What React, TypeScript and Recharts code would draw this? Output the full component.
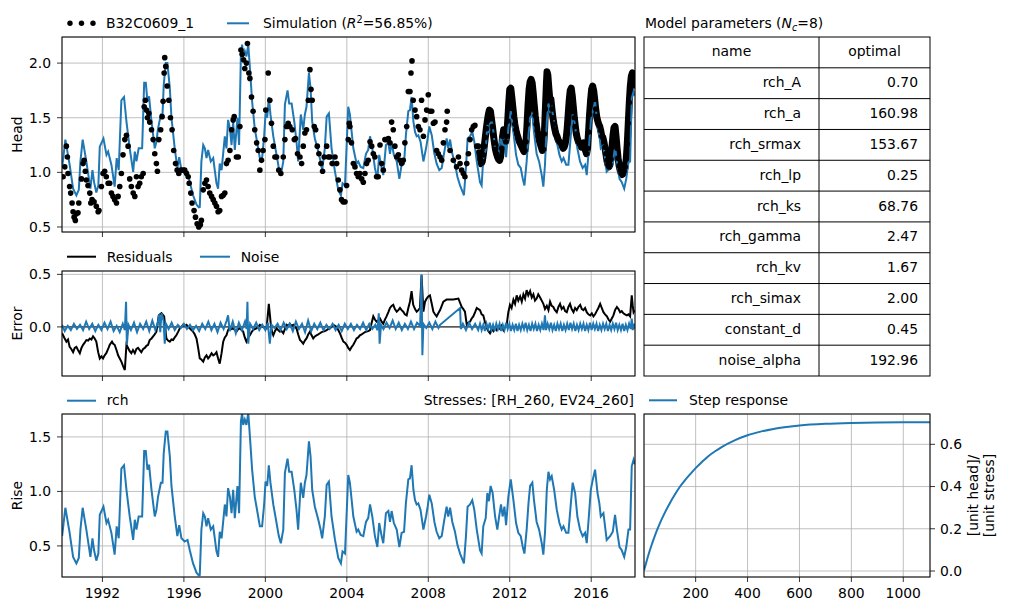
import React from "react";
import {
  ComposedChart,
  Line,
  Scatter,
  XAxis,
  YAxis,
  CartesianGrid,
  ReferenceLine,
} from "recharts";

const BLUE = "#1f77b4";
const FONT = "DejaVu Sans, sans-serif";
const FS = 13.9;

// --- data -------------------------------------------------------------

// manual head readings of B32C0609_1 [decimal year, head]
const manualReadings: [number, number][] = [
  [1990.07, 0.96], [1990.15, 1.05], [1990.23, 1.24], [1990.28, 1.14], [1990.31, 0.99],
  [1990.39, 0.87], [1990.44, 0.81], [1990.51, 0.72], [1990.56, 0.64], [1990.61, 0.59],
  [1990.67, 0.56], [1990.72, 0.62], [1990.8, 0.63], [1990.84, 0.72], [1990.97, 0.94],
  [1991.05, 1.08], [1991.1, 1.11], [1991.16, 1.01], [1991.21, 0.93], [1991.29, 0.88],
  [1991.38, 0.81], [1991.43, 0.72], [1991.49, 0.75], [1991.59, 0.73], [1991.7, 0.69],
  [1991.79, 0.64], [1991.83, 0.65], [1991.95, 0.87], [1992.03, 0.99], [1992.11, 1.01],
  [1992.19, 0.96], [1992.28, 0.9], [1992.36, 0.9], [1992.44, 0.81], [1992.52, 0.78],
  [1992.6, 0.75], [1992.69, 0.72], [1992.77, 0.78], [1992.85, 0.87], [1992.93, 0.99],
  [1993.01, 1.16], [1993.1, 1.3], [1993.18, 1.34], [1993.26, 1.24], [1993.34, 0.94],
  [1993.42, 0.87], [1993.51, 0.81], [1993.59, 0.78], [1993.67, 0.96], [1993.75, 0.87],
  [1993.83, 0.9], [1993.91, 0.96], [1994.0, 0.99], [1994.05, 1.6], [1994.11, 1.66],
  [1994.16, 1.57], [1994.21, 1.5], [1994.28, 1.54], [1994.32, 1.46], [1994.41, 1.39],
  [1994.49, 1.3], [1994.57, 1.17], [1994.65, 1.08], [1994.7, 1.01], [1994.77, 1.3],
  [1994.86, 1.39], [1994.93, 1.51], [1994.98, 1.65], [1995.03, 1.91], [1995.06, 2.05],
  [1995.11, 1.97], [1995.18, 1.79], [1995.26, 1.66], [1995.34, 1.5], [1995.42, 1.39],
  [1995.5, 1.2], [1995.59, 1.08], [1995.67, 1.02], [1995.75, 0.99], [1995.85, 1.02],
  [1995.96, 1.02], [1996.04, 1.02], [1996.13, 0.99], [1996.21, 0.96], [1996.26, 0.9],
  [1996.34, 0.81], [1996.4, 0.72], [1996.5, 0.65], [1996.57, 0.59], [1996.65, 0.53],
  [1996.73, 0.5], [1996.81, 0.52], [1996.86, 0.56], [1996.95, 0.84], [1997.03, 0.9],
  [1997.11, 0.93], [1997.19, 0.87], [1997.27, 0.81], [1997.36, 0.78], [1997.44, 0.75],
  [1997.52, 0.72], [1997.6, 0.69], [1997.68, 0.64], [1997.76, 0.65], [1997.85, 0.78],
  [1997.93, 0.79], [1998.01, 0.81], [1998.09, 1.08], [1998.17, 1.11], [1998.26, 1.2],
  [1998.34, 1.39], [1998.42, 1.48], [1998.47, 1.51], [1998.58, 1.14], [1998.67, 1.14],
  [1998.75, 1.42], [1998.8, 2.12], [1998.86, 2.08], [1998.93, 2.03], [1998.99, 1.95],
  [1999.07, 2.0], [1999.12, 2.18], [1999.19, 1.91], [1999.24, 1.86], [1999.32, 1.69],
  [1999.4, 1.56], [1999.48, 1.39], [1999.57, 1.27], [1999.65, 1.2], [1999.73, 1.02],
  [1999.81, 1.11], [1999.89, 1.2], [1999.98, 1.3], [2000.02, 1.57], [2000.14, 1.91],
  [2000.22, 1.66], [2000.3, 1.45], [2000.39, 1.24], [2000.47, 1.14], [2000.55, 1.14],
  [2000.66, 1.02], [2000.76, 0.99], [2000.88, 1.14], [2000.96, 1.3], [2001.04, 1.42],
  [2001.12, 1.45], [2001.2, 1.42], [2001.32, 1.39], [2001.42, 1.3], [2001.48, 1.31],
  [2001.58, 1.17], [2001.7, 1.14], [2001.78, 1.08], [2001.86, 1.24], [2001.94, 1.36],
  [2002.02, 1.39], [2002.11, 1.66], [2002.19, 1.94], [2002.24, 1.76], [2002.3, 1.66],
  [2002.4, 1.42], [2002.47, 1.39], [2002.55, 1.24], [2002.63, 1.17], [2002.73, 1.08],
  [2002.81, 1.01], [2002.89, 1.14], [2003.01, 1.24], [2003.09, 1.14], [2003.17, 1.14],
  [2003.28, 1.08], [2003.42, 1.14], [2003.5, 1.08], [2003.58, 0.93], [2003.66, 0.84],
  [2003.74, 0.75], [2003.82, 0.73], [2003.91, 0.73], [2003.99, 0.88], [2004.07, 1.3],
  [2004.12, 1.45], [2004.15, 1.42], [2004.23, 1.27], [2004.32, 1.08], [2004.4, 1.05],
  [2004.48, 0.99], [2004.56, 0.96], [2004.64, 0.99], [2004.73, 0.94], [2004.81, 0.91],
  [2004.89, 0.99], [2004.97, 1.08], [2005.05, 1.11], [2005.14, 1.28], [2005.22, 1.24],
  [2005.3, 1.17], [2005.38, 1.14], [2005.46, 0.96], [2005.54, 0.96], [2005.63, 1.25],
  [2005.71, 1.08], [2005.79, 1.02], [2005.87, 1.3], [2005.95, 1.3], [2006.04, 1.31],
  [2006.12, 1.27], [2006.2, 1.46], [2006.28, 1.39], [2006.36, 1.24], [2006.45, 1.14],
  [2006.53, 1.16], [2006.61, 1.11], [2006.69, 1.08], [2006.77, 1.11], [2006.85, 1.27],
  [2006.94, 1.42], [2007.02, 1.74], [2007.1, 1.74], [2007.15, 1.91], [2007.2, 2.02],
  [2007.26, 1.66], [2007.35, 1.57], [2007.43, 1.51], [2007.51, 1.42], [2007.59, 1.39],
  [2007.67, 1.66], [2007.76, 1.33], [2007.84, 1.48], [2007.92, 1.57], [2008.0, 1.71],
  [2008.08, 1.56], [2008.17, 1.56], [2008.25, 1.45], [2008.33, 1.46], [2008.41, 1.2],
  [2008.49, 1.17], [2008.58, 1.14], [2008.66, 1.11], [2008.74, 1.27], [2008.82, 1.39],
  [2008.9, 1.46], [2008.93, 1.56], [2009.07, 1.2], [2009.23, 1.11], [2009.39, 1.05],
  [2009.48, 1.14], [2009.56, 1.08], [2009.64, 1.02], [2009.72, 0.99], [2009.8, 0.96],
  [2009.89, 1.08], [2009.97, 1.17], [2010.05, 1.3], [2010.13, 1.39], [2010.21, 1.42],
  [2010.29, 1.43], [2010.38, 1.24], [2010.46, 1.24],
];

// logger period, daily readings taken every ~18 days [decimal year, head]
const loggerReadings: [number, number][] = [
  [2010.5, 1.18], [2010.55, 1.12], [2010.6, 1.08], [2010.65, 1.1], [2010.7, 1.16],
  [2010.75, 1.24], [2010.8, 1.32], [2010.85, 1.4], [2010.9, 1.47], [2010.95, 1.53],
  [2011.0, 1.57], [2011.05, 1.56], [2011.1, 1.49], [2011.15, 1.42], [2011.2, 1.34],
  [2011.25, 1.27], [2011.3, 1.21], [2011.35, 1.17], [2011.4, 1.14], [2011.45, 1.12],
  [2011.5, 1.11], [2011.55, 1.14], [2011.6, 1.22], [2011.65, 1.33], [2011.7, 1.39],
  [2011.75, 1.34], [2011.8, 1.28], [2011.85, 1.33], [2011.9, 1.47], [2011.95, 1.63],
  [2012.0, 1.76], [2012.05, 1.77], [2012.1, 1.69], [2012.15, 1.6], [2012.2, 1.51],
  [2012.25, 1.44], [2012.3, 1.39], [2012.35, 1.35], [2012.4, 1.32], [2012.45, 1.29],
  [2012.5, 1.27], [2012.55, 1.25], [2012.6, 1.23], [2012.65, 1.21], [2012.7, 1.19],
  [2012.75, 1.2], [2012.8, 1.28], [2012.85, 1.44], [2012.9, 1.62], [2012.95, 1.76],
  [2013.0, 1.83], [2013.05, 1.85], [2013.1, 1.82], [2013.15, 1.73], [2013.2, 1.62],
  [2013.25, 1.52], [2013.3, 1.44], [2013.35, 1.38], [2013.4, 1.33], [2013.45, 1.29],
  [2013.5, 1.26], [2013.55, 1.23], [2013.6, 1.2], [2013.65, 1.21], [2013.7, 1.35],
  [2013.75, 1.58], [2013.8, 1.81], [2013.83, 1.92], [2013.87, 1.89], [2013.92, 1.77],
  [2013.97, 1.66], [2014.02, 1.67], [2014.07, 1.58], [2014.12, 1.5], [2014.17, 1.44],
  [2014.22, 1.39], [2014.27, 1.35], [2014.32, 1.33], [2014.37, 1.3], [2014.42, 1.28],
  [2014.47, 1.27], [2014.52, 1.26], [2014.57, 1.24], [2014.62, 1.22], [2014.67, 1.23],
  [2014.72, 1.26], [2014.77, 1.31], [2014.82, 1.4], [2014.87, 1.53], [2014.92, 1.66],
  [2014.97, 1.75], [2015.02, 1.77], [2015.07, 1.7], [2015.12, 1.6], [2015.17, 1.5],
  [2015.22, 1.42], [2015.27, 1.35], [2015.32, 1.31], [2015.37, 1.28], [2015.42, 1.26],
  [2015.47, 1.25], [2015.52, 1.23], [2015.57, 1.24], [2015.62, 1.27], [2015.67, 1.25],
  [2015.72, 1.2], [2015.77, 1.17], [2015.82, 1.22], [2015.87, 1.37], [2015.92, 1.53],
  [2015.97, 1.66], [2016.02, 1.76], [2016.07, 1.79], [2016.12, 1.75], [2016.17, 1.67],
  [2016.22, 1.58], [2016.27, 1.51], [2016.32, 1.47], [2016.37, 1.44], [2016.42, 1.42],
  [2016.47, 1.38], [2016.52, 1.33], [2016.57, 1.32], [2016.62, 1.28], [2016.67, 1.23],
  [2016.72, 1.17], [2016.77, 1.11], [2016.82, 1.07], [2016.87, 1.05], [2016.92, 1.07],
  [2016.97, 1.12], [2017.02, 1.23], [2017.07, 1.34], [2017.12, 1.41], [2017.17, 1.42],
  [2017.22, 1.33], [2017.27, 1.22], [2017.32, 1.13], [2017.37, 1.06], [2017.42, 1.02],
  [2017.47, 0.99], [2017.52, 0.98], [2017.57, 0.99], [2017.62, 1.01], [2017.67, 1.05],
  [2017.72, 1.12], [2017.77, 1.26], [2017.82, 1.45], [2017.87, 1.64], [2017.92, 1.79],
  [2017.97, 1.88], [2018.02, 1.91], [2018.07, 1.87], [2018.12, 1.8],
];

// recharge contribution (rise) [decimal year, rise]
const rchRise: [number, number][] = [
  [1990.02, 0.59], [1990.18, 0.85], [1990.39, 0.62], [1990.56, 0.4], [1990.72, 0.34],
  [1990.84, 0.39], [1990.92, 0.65], [1991.03, 0.85], [1991.21, 0.65], [1991.41, 0.4],
  [1991.51, 0.57], [1991.59, 0.46], [1991.7, 0.365], [1991.8, 0.43], [1991.87, 0.785],
  [1992.05, 0.86], [1992.2, 0.71], [1992.28, 0.74], [1992.44, 0.62], [1992.6, 0.42],
  [1992.7, 0.68], [1992.8, 0.57], [1992.93, 1.21], [1993.06, 1.24], [1993.18, 1.015],
  [1993.34, 0.77], [1993.51, 0.555], [1993.59, 0.74], [1993.67, 0.65], [1993.78, 0.77],
  [1993.95, 0.77], [1994.05, 1.37], [1994.13, 1.37], [1994.21, 1.2], [1994.29, 1.245],
  [1994.41, 1.015], [1994.57, 0.77], [1994.65, 0.83], [1994.73, 0.95], [1994.87, 1.08],
  [1994.95, 1.08], [1995.01, 1.35], [1995.11, 1.55], [1995.19, 1.55], [1995.31, 1.32],
  [1995.39, 1.05], [1995.55, 0.77], [1995.68, 0.59], [1995.77, 0.69], [1995.88, 0.57],
  [1996.04, 0.54], [1996.18, 0.555], [1996.29, 0.46], [1996.45, 0.34], [1996.62, 0.255],
  [1996.73, 0.23], [1996.78, 0.233], [1996.86, 0.65], [1996.95, 0.8], [1997.03, 0.77],
  [1997.11, 0.68], [1997.19, 0.755], [1997.32, 0.65], [1997.44, 0.68], [1997.6, 0.45],
  [1997.68, 0.4], [1997.76, 0.63], [1997.85, 0.57], [1998.01, 0.88], [1998.09, 0.77],
  [1998.17, 1.03], [1998.26, 0.95], [1998.34, 0.8], [1998.42, 1.015], [1998.5, 0.755],
  [1998.63, 1.05], [1998.71, 0.8], [1998.8, 1.64], [1998.86, 1.72], [1998.91, 1.61],
  [1998.99, 1.66], [1999.07, 1.61], [1999.16, 1.72], [1999.24, 1.51], [1999.35, 1.2],
  [1999.48, 0.95], [1999.62, 0.8], [1999.73, 0.68], [1999.84, 0.68], [1999.94, 0.88],
  [2000.01, 1.09], [2000.09, 1.05], [2000.17, 1.24], [2000.25, 1.08], [2000.39, 0.88],
  [2000.55, 0.71], [2000.66, 0.59], [2000.76, 0.525], [2000.88, 0.65], [2000.96, 1.17],
  [2001.09, 1.3], [2001.17, 1.18], [2001.29, 1.18], [2001.42, 1.015], [2001.53, 0.83],
  [2001.61, 0.65], [2001.74, 1.08], [2001.86, 0.94], [2001.94, 1.08], [2002.02, 1.15],
  [2002.14, 1.46], [2002.22, 1.32], [2002.3, 1.015], [2002.43, 0.86], [2002.6, 0.74],
  [2002.71, 0.65], [2002.79, 0.57], [2002.92, 0.77], [2003.01, 1.06], [2003.12, 1.09],
  [2003.25, 0.77], [2003.42, 0.555], [2003.58, 0.39], [2003.71, 0.34], [2003.79, 0.45],
  [2003.91, 0.43], [2004.07, 1.15], [2004.15, 1.08], [2004.32, 0.77], [2004.48, 0.63],
  [2004.56, 0.65], [2004.68, 0.6], [2004.81, 0.59], [2004.94, 0.72], [2005.05, 0.755],
  [2005.14, 0.88], [2005.25, 0.77], [2005.38, 0.59], [2005.5, 0.49], [2005.59, 0.71],
  [2005.71, 0.59], [2005.79, 0.525], [2005.92, 0.8], [2006.04, 0.82], [2006.12, 0.72],
  [2006.2, 0.82], [2006.31, 0.71], [2006.45, 0.65], [2006.58, 0.49], [2006.69, 0.62],
  [2006.81, 0.63], [2006.9, 0.89], [2007.02, 1.11], [2007.1, 1.12], [2007.18, 1.24],
  [2007.27, 1.015], [2007.35, 0.92], [2007.43, 0.88], [2007.51, 0.89], [2007.62, 0.83],
  [2007.76, 0.65], [2007.89, 0.77], [2007.97, 0.86], [2008.05, 0.97], [2008.17, 0.89],
  [2008.3, 0.72], [2008.41, 0.63], [2008.54, 0.57], [2008.66, 0.59], [2008.77, 0.72],
  [2008.9, 0.86], [2008.98, 0.77], [2009.07, 0.85], [2009.18, 0.72], [2009.31, 0.63],
  [2009.43, 0.51], [2009.56, 0.43], [2009.69, 0.37], [2009.75, 0.34], [2009.85, 0.59],
  [2009.93, 0.86], [2010.05, 0.88], [2010.16, 0.92], [2010.26, 0.83], [2010.38, 0.65],
  [2010.54, 0.46], [2010.62, 0.43], [2010.7, 0.68], [2010.82, 0.755], [2010.9, 0.985],
  [2010.98, 0.91], [2011.06, 1.05], [2011.16, 0.985], [2011.28, 0.77], [2011.39, 0.65],
  [2011.49, 0.785], [2011.57, 0.88], [2011.65, 0.77], [2011.74, 0.86], [2011.82, 0.69],
  [2011.93, 0.95], [2012.05, 1.11], [2012.18, 0.92], [2012.31, 0.71], [2012.42, 0.62],
  [2012.54, 0.59], [2012.64, 0.49], [2012.72, 0.43], [2012.83, 0.65], [2012.92, 0.89],
  [2013.0, 1.05], [2013.11, 1.08], [2013.19, 0.92], [2013.32, 0.72], [2013.44, 0.65],
  [2013.57, 0.525], [2013.65, 0.42], [2013.73, 0.62], [2013.82, 1.015], [2013.9, 1.18],
  [2013.98, 1.11], [2014.06, 1.14], [2014.18, 1.015], [2014.31, 0.83], [2014.44, 0.71],
  [2014.55, 0.65], [2014.64, 0.68], [2014.77, 0.62], [2014.88, 0.62], [2015.0, 0.89],
  [2015.09, 1.08], [2015.21, 0.985], [2015.32, 0.77], [2015.45, 0.65], [2015.58, 0.59],
  [2015.7, 0.62], [2015.78, 0.525], [2015.86, 0.71], [2015.98, 1.015], [2016.08, 1.11],
  [2016.19, 1.2], [2016.31, 0.985], [2016.4, 0.89], [2016.47, 0.77], [2016.6, 0.8],
  [2016.76, 0.555], [2016.93, 0.59], [2017.06, 0.63], [2017.17, 0.785], [2017.26, 0.65],
  [2017.39, 0.49], [2017.5, 0.46], [2017.62, 0.4], [2017.72, 0.49], [2017.83, 0.65],
  [2017.91, 0.65], [2017.99, 1.23], [2018.08, 1.29], [2018.14, 1.25],
];

// residuals (observed - simulated) [decimal year, error]
const residuals: [number, number][] = [
  [1990.02, -0.06], [1990.12, -0.1], [1990.23, -0.14], [1990.31, -0.12], [1990.39, -0.19],
  [1990.47, -0.21], [1990.56, -0.24], [1990.64, -0.2], [1990.72, -0.19], [1990.8, -0.22],
  [1990.89, -0.25], [1990.97, -0.2], [1991.05, -0.17], [1991.13, -0.15], [1991.21, -0.125],
  [1991.3, -0.13], [1991.38, -0.11], [1991.46, -0.12], [1991.54, -0.09], [1991.62, -0.11],
  [1991.7, -0.14], [1991.79, -0.24], [1991.87, -0.3], [1991.95, -0.28], [1992.03, -0.3],
  [1992.11, -0.27], [1992.19, -0.25], [1992.28, -0.21], [1992.36, -0.17], [1992.47, -0.14],
  [1992.53, -0.16], [1992.6, -0.17], [1992.69, -0.22], [1992.77, -0.27], [1992.85, -0.3],
  [1992.93, -0.33], [1993.01, -0.37], [1993.1, -0.41], [1993.18, -0.17], [1993.26, -0.2],
  [1993.34, -0.23], [1993.42, -0.25], [1993.5, -0.22], [1993.59, -0.25], [1993.67, -0.21],
  [1993.75, -0.2], [1993.83, -0.22], [1993.91, -0.24], [1994.0, -0.21], [1994.08, -0.2],
  [1994.16, -0.18], [1994.24, -0.17], [1994.32, -0.125], [1994.41, -0.11], [1994.49, -0.09],
  [1994.57, -0.07], [1994.65, -0.045], [1994.77, 0.11], [1994.9, 0.13], [1995.03, 0.1],
  [1995.14, -0.11], [1995.22, -0.13], [1995.31, -0.14], [1995.39, -0.12], [1995.47, -0.125],
  [1995.55, -0.1], [1995.63, -0.08], [1995.71, -0.05], [1995.8, -0.014], [1995.88, 0.0],
  [1995.96, 0.02], [1996.04, 0.01], [1996.13, 0.02], [1996.21, 0.0], [1996.29, -0.014],
  [1996.37, -0.03], [1996.45, -0.045], [1996.53, -0.07], [1996.62, -0.11], [1996.7, -0.2],
  [1996.78, -0.3], [1996.86, -0.31], [1996.95, -0.33], [1997.03, -0.29], [1997.11, -0.27],
  [1997.19, -0.3], [1997.27, -0.28], [1997.36, -0.25], [1997.44, -0.27], [1997.52, -0.26],
  [1997.6, -0.24], [1997.68, -0.3], [1997.76, -0.35], [1997.85, -0.25], [1997.93, -0.14],
  [1998.01, -0.1], [1998.09, -0.08], [1998.17, -0.03], [1998.26, 0.0], [1998.34, -0.02],
  [1998.42, -0.014], [1998.5, -0.03], [1998.58, -0.045], [1998.67, -0.02], [1998.75, -0.014],
  [1998.83, -0.03], [1998.91, -0.045], [1998.99, -0.1], [1999.07, -0.14], [1999.16, -0.1],
  [1999.24, -0.08], [1999.32, -0.05], [1999.4, -0.03], [1999.48, -0.02], [1999.57, -0.014],
  [1999.65, 0.0], [1999.73, 0.02], [1999.81, 0.01], [1999.89, 0.0], [1999.98, -0.01],
  [2000.06, -0.014], [2000.17, 0.22], [2000.27, 0.02], [2000.33, -0.05], [2000.39, -0.08],
  [2000.47, -0.04], [2000.55, -0.014], [2000.63, -0.03], [2000.71, -0.045], [2000.8, -0.04],
  [2000.88, -0.06], [2000.96, -0.02], [2001.04, 0.02], [2001.12, 0.01], [2001.2, 0.03],
  [2001.29, 0.01], [2001.37, 0.02], [2001.45, 0.0], [2001.53, -0.014], [2001.61, -0.07],
  [2001.7, -0.125], [2001.78, -0.14], [2001.86, -0.16], [2001.94, -0.13], [2002.02, -0.11],
  [2002.11, -0.07], [2002.19, -0.045], [2002.27, -0.08], [2002.35, -0.11], [2002.43, -0.09],
  [2002.51, -0.08], [2002.6, -0.07], [2002.68, -0.06], [2002.76, -0.05], [2002.84, -0.045],
  [2002.92, -0.04], [2003.01, -0.03], [2003.09, -0.02], [2003.17, -0.014], [2003.25, 0.0],
  [2003.33, 0.02], [2003.42, 0.01], [2003.5, 0.0], [2003.58, -0.03], [2003.66, -0.06],
  [2003.74, -0.1], [2003.83, -0.14], [2003.91, -0.15], [2003.99, -0.17], [2004.07, -0.2],
  [2004.15, -0.22], [2004.24, -0.19], [2004.32, -0.17], [2004.4, -0.14], [2004.48, -0.11],
  [2004.56, -0.1], [2004.64, -0.08], [2004.73, -0.07], [2004.81, -0.06], [2004.89, -0.05],
  [2004.97, -0.045], [2005.05, -0.04], [2005.14, -0.03], [2005.22, 0.04], [2005.3, 0.1],
  [2005.38, 0.07], [2005.46, 0.05], [2005.54, 0.06], [2005.63, 0.08], [2005.71, 0.05],
  [2005.79, 0.03], [2005.87, 0.07], [2005.95, 0.1], [2006.04, 0.14], [2006.12, 0.18],
  [2006.2, 0.2], [2006.28, 0.21], [2006.36, 0.17], [2006.45, 0.145], [2006.53, 0.16],
  [2006.61, 0.18], [2006.69, 0.16], [2006.77, 0.145], [2006.85, 0.12], [2006.94, 0.11],
  [2007.02, 0.18], [2007.1, 0.24], [2007.18, 0.34], [2007.26, 0.21], [2007.35, 0.17],
  [2007.43, 0.145], [2007.51, 0.16], [2007.59, 0.18], [2007.67, 0.49], [2007.76, 0.145],
  [2007.84, 0.24], [2007.92, 0.27], [2008.0, 0.29], [2008.08, 0.3], [2008.17, 0.22],
  [2008.25, 0.145], [2008.33, 0.12], [2008.41, 0.1], [2008.49, 0.13], [2008.58, 0.16],
  [2008.66, 0.2], [2008.74, 0.24], [2008.9, 0.26], [2009.23, 0.26], [2009.48, 0.27],
  [2009.56, 0.23], [2009.64, 0.19], [2009.72, 0.17], [2009.8, 0.145], [2009.89, 0.02],
  [2009.97, 0.04], [2010.05, 0.05], [2010.13, 0.08], [2010.21, 0.1], [2010.3, 0.14],
  [2010.38, 0.18], [2010.46, 0.17], [2010.54, 0.16], [2010.62, 0.12], [2010.7, 0.11],
  [2010.78, 0.05], [2010.87, -0.01], [2010.95, -0.04], [2011.03, -0.06], [2011.11, -0.02],
  [2011.2, -0.04], [2011.28, -0.01], [2011.36, -0.03], [2011.44, 0.0], [2011.52, -0.02],
  [2011.6, 0.01], [2011.69, -0.03], [2011.77, 0.0], [2011.85, 0.02], [2011.93, 0.14],
  [2012.01, 0.21], [2012.09, 0.18], [2012.18, 0.26], [2012.26, 0.22], [2012.34, 0.3],
  [2012.42, 0.25], [2012.51, 0.29], [2012.59, 0.24], [2012.67, 0.31], [2012.75, 0.27],
  [2012.83, 0.35], [2012.91, 0.3], [2013.0, 0.34], [2013.08, 0.28], [2013.16, 0.31],
  [2013.24, 0.25], [2013.32, 0.27], [2013.4, 0.31], [2013.49, 0.28], [2013.57, 0.25],
  [2013.65, 0.22], [2013.73, 0.17], [2013.82, 0.2], [2013.9, 0.16], [2013.98, 0.24],
  [2014.06, 0.2], [2014.14, 0.19], [2014.22, 0.16], [2014.31, 0.14], [2014.39, 0.19],
  [2014.47, 0.22], [2014.55, 0.17], [2014.64, 0.19], [2014.72, 0.15], [2014.8, 0.14],
  [2014.88, 0.19], [2014.96, 0.22], [2015.04, 0.17], [2015.13, 0.14], [2015.21, 0.18],
  [2015.29, 0.16], [2015.37, 0.19], [2015.46, 0.21], [2015.54, 0.17], [2015.62, 0.16],
  [2015.7, 0.18], [2015.78, 0.14], [2015.86, 0.12], [2015.95, 0.11], [2016.03, 0.13],
  [2016.11, 0.1], [2016.19, 0.12], [2016.27, 0.15], [2016.35, 0.18], [2016.44, 0.22],
  [2016.52, 0.18], [2016.6, 0.14], [2016.68, 0.12], [2016.77, 0.1], [2016.85, 0.07],
  [2016.93, 0.05], [2017.01, 0.08], [2017.09, 0.11], [2017.17, 0.16], [2017.26, 0.19],
  [2017.34, 0.17], [2017.42, 0.14], [2017.5, 0.15], [2017.58, 0.13], [2017.66, 0.12],
  [2017.75, 0.11], [2017.83, 0.12], [2017.91, 0.1], [2017.99, 0.3], [2018.04, 0.2],
  [2018.08, 0.14], [2018.14, 0.16],
];

// noise model series [decimal year, error]
const noise: [number, number][] = [
  [1990.02, 0.02], [1990.15, -0.04], [1990.3, 0.01], [1990.45, -0.03], [1990.6, 0.03],
  [1990.75, -0.02], [1990.9, 0.02], [1991.05, -0.03], [1991.2, 0.05], [1991.35, -0.02],
  [1991.5, 0.03], [1991.65, -0.04], [1991.8, 0.02], [1991.95, -0.03], [1992.1, 0.04],
  [1992.25, -0.02], [1992.4, 0.05], [1992.55, -0.04], [1992.7, 0.01], [1992.85, -0.05],
  [1993.0, 0.03], [1993.1, -0.03], [1993.16, 0.24], [1993.2, -0.17], [1993.28, 0.02],
  [1993.4, -0.03], [1993.55, 0.04], [1993.7, -0.05], [1993.85, 0.03], [1994.0, -0.02],
  [1994.15, 0.05], [1994.3, -0.04], [1994.45, 0.06], [1994.6, -0.03], [1994.72, 0.04],
  [1994.78, 0.12], [1994.84, -0.05], [1994.9, 0.13], [1995.0, 0.06], [1995.06, -0.16],
  [1995.12, 0.03], [1995.25, -0.02], [1995.4, 0.04], [1995.55, -0.03], [1995.7, 0.02],
  [1995.85, -0.01], [1996.0, 0.03], [1996.15, -0.02], [1996.3, 0.02], [1996.45, -0.03],
  [1996.6, 0.01], [1996.75, -0.04], [1996.9, 0.03], [1997.05, -0.02], [1997.2, 0.05],
  [1997.35, -0.03], [1997.5, 0.03], [1997.65, -0.05], [1997.8, 0.04], [1997.95, -0.02],
  [1998.1, 0.06], [1998.17, 0.11], [1998.25, -0.04], [1998.4, 0.05], [1998.55, -0.06],
  [1998.7, 0.04], [1998.85, -0.03], [1999.0, 0.05], [1999.08, -0.02], [1999.12, 0.24],
  [1999.16, -0.16], [1999.25, 0.03], [1999.4, -0.02], [1999.55, 0.04], [1999.7, -0.03],
  [1999.85, 0.02], [2000.0, -0.03], [2000.12, 0.04], [2000.22, -0.16], [2000.3, 0.02],
  [2000.45, -0.01], [2000.6, 0.03], [2000.75, -0.03], [2000.9, 0.04], [2001.05, -0.02],
  [2001.2, 0.03], [2001.35, -0.04], [2001.5, 0.05], [2001.65, -0.02], [2001.8, 0.03],
  [2001.95, -0.05], [2002.1, 0.06], [2002.25, -0.04], [2002.4, 0.03], [2002.55, -0.02],
  [2002.7, 0.04], [2002.85, -0.03], [2003.0, 0.02], [2003.15, -0.02], [2003.3, 0.03],
  [2003.45, -0.03], [2003.6, 0.02], [2003.75, -0.04], [2003.9, 0.03], [2004.05, -0.02],
  [2004.2, 0.03], [2004.35, -0.03], [2004.5, 0.02], [2004.65, -0.02], [2004.8, 0.04],
  [2004.95, -0.03], [2005.1, 0.03], [2005.25, -0.02], [2005.4, 0.02], [2005.5, -0.03],
  [2005.57, 0.13], [2005.61, -0.16], [2005.68, 0.02], [2005.8, -0.02], [2005.95, 0.04],
  [2006.1, -0.01], [2006.25, 0.06], [2006.4, -0.02], [2006.55, 0.04], [2006.7, -0.03],
  [2006.85, 0.03], [2007.0, -0.02], [2007.15, 0.05], [2007.3, -0.02], [2007.45, 0.04],
  [2007.6, 0.01], [2007.67, 0.5], [2007.71, -0.27], [2007.76, 0.03], [2007.9, -0.01],
  [2008.05, 0.04], [2008.2, -0.02], [2008.35, 0.05], [2008.5, -0.01], [2008.58, 0.02],
  [2009.56, 0.18], [2009.6, -0.02], [2009.7, 0.03], [2009.85, -0.03], [2010.0, 0.04],
  [2010.15, -0.02], [2010.3, 0.03], [2010.45, -0.03], [2010.54, 0.03], [2010.62, -0.03],
  [2010.7, 0.02], [2010.78, -0.04], [2010.86, 0.03], [2010.94, -0.02], [2011.02, 0.04],
  [2011.1, -0.03], [2011.18, 0.02], [2011.26, -0.04], [2011.34, 0.03], [2011.42, -0.02],
  [2011.5, 0.03], [2011.58, -0.04], [2011.66, 0.02], [2011.74, -0.03], [2011.82, 0.04],
  [2011.9, -0.02], [2011.98, 0.03], [2012.06, -0.04], [2012.14, 0.02], [2012.22, -0.03],
  [2012.3, 0.03], [2012.38, -0.04], [2012.46, 0.02], [2012.54, -0.03], [2012.62, 0.03],
  [2012.7, -0.02], [2012.78, 0.04], [2012.86, -0.03], [2012.94, 0.02], [2013.02, -0.04],
  [2013.1, 0.03], [2013.18, -0.02], [2013.26, 0.03], [2013.34, -0.04], [2013.42, 0.02],
  [2013.5, -0.03], [2013.58, 0.03], [2013.66, -0.03], [2013.73, 0.11], [2013.78, -0.03],
  [2013.86, 0.03], [2013.94, -0.02], [2014.02, 0.04], [2014.1, -0.03], [2014.18, 0.02],
  [2014.26, -0.04], [2014.34, 0.03], [2014.42, -0.02], [2014.5, 0.03], [2014.58, -0.04],
  [2014.66, 0.02], [2014.74, -0.03], [2014.82, 0.03], [2014.9, -0.03], [2014.98, 0.04],
  [2015.06, -0.02], [2015.14, 0.03], [2015.22, -0.04], [2015.3, 0.02], [2015.38, -0.03],
  [2015.46, 0.03], [2015.54, -0.02], [2015.62, 0.03], [2015.7, -0.04], [2015.78, 0.02],
  [2015.86, -0.03], [2015.94, 0.04], [2016.02, -0.03], [2016.1, 0.03], [2016.18, -0.02],
  [2016.26, 0.03], [2016.34, -0.04], [2016.42, 0.02], [2016.5, -0.03], [2016.58, 0.03],
  [2016.66, -0.02], [2016.74, 0.03], [2016.82, -0.04], [2016.9, 0.02], [2016.98, -0.03],
  [2017.06, 0.03], [2017.14, -0.02], [2017.22, 0.04], [2017.3, -0.03], [2017.38, 0.02],
  [2017.46, -0.03], [2017.54, 0.03], [2017.62, -0.04], [2017.7, 0.02], [2017.78, -0.03],
  [2017.86, 0.03], [2017.94, -0.02], [2017.99, 0.08], [2018.04, -0.03], [2018.1, 0.03],
  [2018.14, -0.02],
];

// step response of the recharge model
const stepTimes = [
  1, 10, 20, 30, 40, 50, 60, 80, 100, 120, 140, 160, 180, 200, 225, 250, 275, 300,
  350, 400, 450, 500, 550, 600, 700, 800, 900, 1000, 1103,
];
const stepValues = [
  0.004, 0.042, 0.084, 0.122, 0.157, 0.19, 0.22, 0.273, 0.32, 0.362, 0.4, 0.432, 0.46,
  0.487, 0.517, 0.545, 0.567, 0.587, 0.619, 0.643, 0.66, 0.673, 0.682, 0.689, 0.697,
  0.701, 0.703, 0.704, 0.704,
];

// optimal parameters
const paramNames = [
  "rch_A", "rch_a", "rch_srmax", "rch_lp", "rch_ks",
  "rch_gamma", "rch_kv", "rch_simax", "constant_d", "noise_alpha",
];
const paramValues = [0.7, 160.98, 153.67, 0.25, 68.76, 2.47, 1.67, 2.0, 0.45, 192.96];

const yearTicks = [1992, 1996, 2000, 2004, 2008, 2012, 2016];
const headTicks = [0.5, 1.0, 1.5, 2.0];
const errorTicks = [0.0, 0.5];
const riseTicks = [0.5, 1.0, 1.5];
const stepXTicks = [200, 400, 600, 800, 1000];
const stepYTicks = [0.0, 0.2, 0.4, 0.6];

// --- derived series ----------------------------------------------------

const CONSTANT_D = paramValues[paramNames.indexOf("constant_d")];
const manualPoints = manualReadings.map(([t, head]) => ({ t, head }));
const loggerPoints = loggerReadings.map(([t, head]) => ({ t, head }));
const simPoints = rchRise.map(([t, r]) => ({ t, head: r + CONSTANT_D }));
const risePoints = rchRise.map(([t, rise]) => ({ t, rise }));
const residualPoints = residuals.map(([t, err]) => ({ t, err }));
const noisePoints = noise.map(([t, err]) => ({ t, err }));
const stepPoints = stepTimes.map((t, i) => ({ t, step: stepValues[i] }));

// --- layout ------------------------------------------------------------

const TIME_DOMAIN: [number, number] = [1990.015, 2018.15];
const HEAD = { l: 62, t: 37, r: 635, b: 232 };
const ERR = { l: 62, t: 271, r: 635, b: 376 };
const RISE = { l: 62, t: 414, r: 635, b: 577 };
const STEP = { l: 644, t: 414, r: 930, b: 577 };
const TABLE = { l: 644, t: 37, r: 930, b: 376, split: 819 };

const tickText = { fill: "#000", fontSize: FS, fontFamily: FONT };
const tickLine = { stroke: "#000", strokeWidth: 0.8 };
const fmt1 = (v: number) => v.toFixed(1);

const timeAxis = (labels: boolean, height: number) => (
  <XAxis
    type="number"
    dataKey="t"
    domain={TIME_DOMAIN}
    ticks={yearTicks}
    allowDataOverflow
    height={height}
    axisLine={false}
    tickLine={tickLine}
    tickSize={5}
    tickMargin={6}
    tick={tickText}
    tickFormatter={(v: number) => (labels ? String(v) : "")}
  />
);

const leftAxis = (domain: [number, number], ticks: number[]) => (
  <YAxis
    type="number"
    domain={domain}
    ticks={ticks}
    allowDataOverflow
    width={62}
    axisLine={false}
    tickLine={tickLine}
    tickSize={5}
    tickMargin={6}
    tick={tickText}
    tickFormatter={fmt1}
  />
);

const ObsDot = (p: any) => <circle cx={p.cx} cy={p.cy} r={2.8} fill="#000" />;

function HeadPanel() {
  return (
    <div style={{ position: "absolute", left: 0, top: 0 }}>
      <ComposedChart width={640} height={240} margin={{ top: 37, right: 5, bottom: 0, left: 0 }}>
        <CartesianGrid stroke="#b0b0b0" strokeWidth={0.8} />
        {timeAxis(false, 8)}
        {leftAxis([0.454, 2.239], headTicks)}
        <Scatter data={manualPoints} dataKey="head" shape={ObsDot} isAnimationActive={false} />
        {/* the logger record is daily, so its dots merge into a solid band */}
        <Line data={loggerPoints} dataKey="head" type="linear" stroke="#000" strokeWidth={7} strokeLinejoin="round" strokeLinecap="round" dot={false} legendType="none" isAnimationActive={false} />
        <Scatter data={loggerPoints} dataKey="head" shape={ObsDot} isAnimationActive={false} />
        <Line data={simPoints} dataKey="head" type="linear" stroke={BLUE} strokeWidth={2} dot={false} isAnimationActive={false} />
      </ComposedChart>
    </div>
  );
}

function ErrorPanel() {
  return (
    <div style={{ position: "absolute", left: 0, top: 262 }}>
      <ComposedChart width={640} height={122} margin={{ top: 9, right: 5, bottom: 0, left: 0 }}>
        <CartesianGrid stroke="#b0b0b0" strokeWidth={0.8} />
        {timeAxis(false, 8)}
        {leftAxis([-0.467, 0.532], errorTicks)}
        <ReferenceLine y={0} stroke="#000" strokeWidth={1} />
        <Line data={residualPoints} dataKey="err" type="linear" stroke="#000" strokeWidth={2} dot={false} isAnimationActive={false} />
        <Line data={noisePoints} dataKey="err" type="linear" stroke={BLUE} strokeWidth={2} dot={false} isAnimationActive={false} />
      </ComposedChart>
    </div>
  );
}

function RisePanel() {
  return (
    <div style={{ position: "absolute", left: 0, top: 405 }}>
      <ComposedChart width={640} height={200} margin={{ top: 9, right: 5, bottom: 0, left: 0 }}>
        <CartesianGrid stroke="#b0b0b0" strokeWidth={0.8} />
        {timeAxis(true, 28)}
        {leftAxis([0.215, 1.71], riseTicks)}
        <Line data={risePoints} dataKey="rise" type="linear" stroke={BLUE} strokeWidth={2} dot={false} isAnimationActive={false} />
      </ComposedChart>
    </div>
  );
}

function StepPanel() {
  return (
    <div style={{ position: "absolute", left: 600, top: 405 }}>
      <ComposedChart width={400} height={200} margin={{ top: 9, right: 0, bottom: 0, left: 44 }}>
        <CartesianGrid stroke="#b0b0b0" strokeWidth={0.8} />
        <XAxis
          type="number"
          dataKey="t"
          domain={[1, 1103]}
          ticks={stepXTicks}
          allowDataOverflow
          height={28}
          axisLine={false}
          tickLine={tickLine}
          tickSize={5}
          tickMargin={6}
          tick={tickText}
        />
        <YAxis
          type="number"
          orientation="right"
          domain={[-0.0284, 0.7436]}
          ticks={stepYTicks}
          allowDataOverflow
          width={70}
          axisLine={false}
          tickLine={tickLine}
          tickSize={5}
          tickMargin={5}
          tick={tickText}
          tickFormatter={fmt1}
        />
        <Line data={stepPoints} dataKey="step" type="monotone" stroke={BLUE} strokeWidth={2} dot={false} isAnimationActive={false} />
      </ComposedChart>
    </div>
  );
}

type Box = { l: number; t: number; r: number; b: number };
const Frame = ({ box }: { box: Box }) => (
  <rect x={box.l} y={box.t} width={box.r - box.l} height={box.b - box.t} fill="none" stroke="#000" strokeWidth={1} />
);

function Overlay() {
  const rows = paramNames.length + 1;
  const rowH = (TABLE.b - TABLE.t) / rows;
  return (
    <svg
      width={1011}
      height={611}
      style={{ position: "absolute", left: 0, top: 0, pointerEvents: "none" }}
      fontFamily={FONT}
      fontSize={FS}
      fill="#000"
    >
      <Frame box={HEAD} />
      <Frame box={ERR} />
      <Frame box={RISE} />
      <Frame box={STEP} />

      {/* head legend */}
      {[70, 81.5, 93].map((x) => (
        <circle key={x} cx={x} cy={23.3} r={2.7} fill="#000" />
      ))}
      <text x={106} y={28.3}>B32C0609_1</text>
      <line x1={227} x2={249} y1={23.3} y2={23.3} stroke={BLUE} strokeWidth={2} />
      <text x={263} y={28.3}>
        Simulation (<tspan fontStyle="italic">R</tspan>
        <tspan fontSize={9.7} dy={-5.5}>2</tspan>
        <tspan dy={5.5}>=56.85%)</tspan>
      </text>

      {/* error legend */}
      <line x1={67} x2={96} y1={256.7} y2={256.7} stroke="#000" strokeWidth={2} />
      <text x={106.7} y={261.5}>Residuals</text>
      <line x1={200} x2={230} y1={256.7} y2={256.7} stroke={BLUE} strokeWidth={2} />
      <text x={240.7} y={261.5}>Noise</text>

      {/* contribution legend and title */}
      <line x1={67} x2={96} y1={400.7} y2={400.7} stroke={BLUE} strokeWidth={2} />
      <text x={106.7} y={405}>rch</text>
      <text x={634} y={405} textAnchor="end">Stresses: [RH_260, EV24_260]</text>
      <line x1={649} x2={677} y1={400.3} y2={400.3} stroke={BLUE} strokeWidth={2} />
      <text x={689} y={405}>Step response</text>

      {/* axis labels */}
      <text transform={`translate(21.5, ${(HEAD.t + HEAD.b) / 2}) rotate(-90)`} textAnchor="middle">Head</text>
      <text transform={`translate(21.5, ${(ERR.t + ERR.b) / 2}) rotate(-90)`} textAnchor="middle">Error</text>
      <text transform={`translate(21.5, ${(RISE.t + RISE.b) / 2}) rotate(-90)`} textAnchor="middle">Rise</text>
      <text transform={`translate(977.5, ${(STEP.t + STEP.b) / 2}) rotate(-90)`} textAnchor="middle">[unit head]/</text>
      <text transform={`translate(994.2, ${(STEP.t + STEP.b) / 2}) rotate(-90)`} textAnchor="middle">[unit stress]</text>

      {/* parameter table */}
      <text x={645} y={28.3}>
        Model parameters (<tspan fontStyle="italic">N</tspan>
        <tspan fontStyle="italic" fontSize={9.7} dy={3}>c</tspan>
        <tspan dy={-3}>=8)</tspan>
      </text>
      <rect x={TABLE.l} y={TABLE.t} width={TABLE.r - TABLE.l} height={TABLE.b - TABLE.t} fill="none" stroke="#000" strokeWidth={1} />
      <line x1={TABLE.split} x2={TABLE.split} y1={TABLE.t} y2={TABLE.b} stroke="#000" strokeWidth={1} />
      {Array.from({ length: rows - 1 }, (_, i) => (
        <line key={i} x1={TABLE.l} x2={TABLE.r} y1={TABLE.t + (i + 1) * rowH} y2={TABLE.t + (i + 1) * rowH} stroke="#000" strokeWidth={1} />
      ))}
      <text x={(TABLE.l + TABLE.split) / 2} y={TABLE.t + rowH / 2 + 4} textAnchor="middle">name</text>
      <text x={(TABLE.split + TABLE.r) / 2} y={TABLE.t + rowH / 2 + 4} textAnchor="middle">optimal</text>
      {paramNames.map((name, i) => {
        const cy = TABLE.t + (i + 1.5) * rowH;
        return (
          <g key={name}>
            <text x={801} y={cy + 4} textAnchor="end">{name}</text>
            <text x={918} y={cy + 4} textAnchor="end">{paramValues[i].toFixed(2)}</text>
          </g>
        );
      })}
    </svg>
  );
}

export default function App() {
  return (
    <div
      style={{
        position: "absolute",
        left: 0,
        top: 0,
        width: 1011,
        height: 611,
        background: "#fff",
        fontFamily: FONT,
      }}
    >
      <HeadPanel />
      <ErrorPanel />
      <RisePanel />
      <StepPanel />
      <Overlay />
    </div>
  );
}
